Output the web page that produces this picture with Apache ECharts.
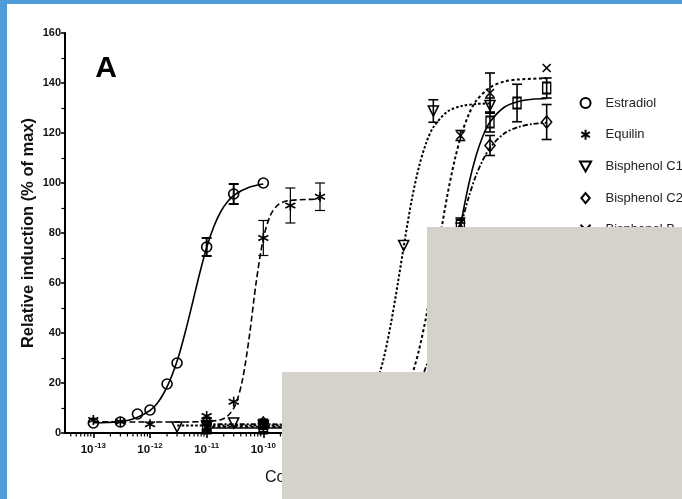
<!DOCTYPE html>
<html><head><meta charset="utf-8">
<script src="https://cdn.jsdelivr.net/npm/echarts@6/dist/echarts.min.js"></script>
<style>html,body{margin:0;padding:0;background:#fff}#c{width:682px;height:499px}</style>
</head><body><div id="c"></div><script>
// ---- measured points: concentration (M), response (% of max), error half-height ----
const estradiolConc = [1e-13, 3e-13, 6e-13, 1e-12, 2e-12, 3e-12, 1e-11, 3e-11, 1e-10];
const estradiolResp = [4, 4.4, 7.6, 9.2, 19.6, 28, 74.4, 95.6, 100];
const estradiolErr  = [0, 0, 0, 0, 0, 0, 3.6, 4, 0];

const equilinConc = [1e-13, 3e-13, 1e-12, 1e-11, 3e-11, 1e-10, 3e-10, 1e-9];
const equilinResp = [5.2, 4.5, 3.5, 6.8, 12.5, 78, 91, 94.5];
const equilinErr  = [0, 0, 0, 0, 0, 7, 7, 5.5];

const c1Conc = [3e-12, 1e-11, 3e-11, 1e-10, 3e-10, 1e-9, 3e-9, 1e-8, 3e-8, 1e-7, 1e-6];
const c1Resp = [2.4, 3, 4, 3, 3.5, 3, 4, 20, 75, 128.8, 131];
const c1Err  = [0, 1.5, 0, 1.5, 0, 1, 0, 2, 0, 4.5, 3];

const c2Conc = [1e-11, 1e-10, 1e-9, 1e-8, 1e-7, 3e-7, 1e-6, 1e-5];
const c2Resp = [4.5, 4, 3.5, 4.5, 36, 81, 115, 124.4];
const c2Err  = [1.5, 1.5, 1, 1, 3, 3, 4, 7];

const bConc = [1e-11, 1e-10, 1e-9, 1e-8, 1e-7, 3e-7, 1e-6, 1e-5];
const bResp = [2.5, 3, 2.5, 4.5, 62, 119, 136, 146];
const bErr  = [1.5, 1.5, 1, 1, 3, 2, 8, 0];

const sqConc = [1e-11, 1e-10, 1e-9, 1e-8, 1e-7, 3e-7, 1e-6, 3e-6, 1e-5];
const sqResp = [2, 2, 2, 2.6, 27, 83, 124.4, 132, 138];
const sqErr  = [1.5, 1.5, 1, 1, 3, 3, 4, 7.5, 4];

// ---- fitted curves: log10 concentration, response ----
const estradiolFitExp = [-13,-12.75,-12.5,-12.25,-12,-11.875,-11.75,-11.625,-11.5,-11.375,-11.25,-11.125,-11,-10.875,-10.75,-10.625,-10.5,-10.25,-10];
const estradiolFitVal = [4.1,4.2,4.6,6.0,9.0,11.8,16.2,22.3,30.3,40.6,52,63.7,74.2,82.5,88.6,92.7,95.4,98.3,99.6];

const equilinFitExp = [-13,-12,-11.5,-11,-10.75,-10.625,-10.5,-10.375,-10.25,-10.125,-10,-9.875,-9.75,-9.625,-9.5,-9.25,-9];
const equilinFitVal = [4.5,4.4,4.4,4.6,5.3,6.9,10.9,20.5,38.2,60.5,77.8,87.1,91.1,92.6,93.1,93.4,93.5];

const c1FitExp = [-11.52,-11,-10,-9,-8.75,-8.5,-8.25,-8.125,-8,-7.875,-7.75,-7.625,-7.5,-7.375,-7.25,-7.125,-7,-6.75,-6.5,-6.25,-6];
const c1FitVal = [3,3,3,3.2,3.7,5.2,9.3,13.5,20.2,30.0,43.6,60.1,77.7,94.0,106.8,116.1,122.3,128.6,130.8,131.6,131.8];

const c2FitExp = [-11,-10,-9,-8.5,-8,-7.75,-7.5,-7.25,-7.125,-7,-6.875,-6.75,-6.625,-6.5,-6.375,-6.25,-6.125,-6,-5.75,-5.5,-5.25,-5];
const c2FitVal = [3.5,3.5,3.4,3.3,4.6,6.6,10.9,19.8,26.8,35.9,46.9,59.3,71.9,83.9,94.4,102.8,109.2,114.1,119.8,122.4,123.6,124.1];

const bFitExp = [-11,-10,-9,-8.5,-8,-7.75,-7.5,-7.375,-7.25,-7.125,-7,-6.875,-6.75,-6.625,-6.5,-6.375,-6.25,-6,-5.75,-5.5,-5];
const bFitVal = [2.5,2.5,2.5,2.8,4.6,8.0,16.2,23.3,33.5,46.7,62.5,79.2,95.4,109.0,119.7,127.4,132.7,138.2,140.6,141.4,141.9];

const sqFitExp = [-11,-10,-9,-8.5,-8,-7.75,-7.5,-7.25,-7.125,-7,-6.875,-6.75,-6.625,-6.5,-6.375,-6.25,-6.125,-6,-5.75,-5.5,-5.25,-5];
const sqFitVal = [2,2,2,2.1,2.6,3.5,6.0,12.4,18.2,26.8,38.6,53.1,69.3,85.4,99.5,110.6,118.8,124.4,130.3,132.6,133.5,133.8];

// ---- axis ticks ----
const yTicks = [0, 20, 40, 60, 80, 100, 120, 140, 160];
const xTickExponents = [-13, -12, -11, -10, -9, -8, -7, -6, -5];
const minorTickConc = [];
for (let n = -14; n <= -5; n++) for (let k = 2; k <= 9; k++) {
  const v = k * Math.pow(10, n);
  if (v > Math.pow(10, -13.5) && v < Math.pow(10, -4.5)) minorTickConc.push(v);
}

const SANS = "'Liberation Sans', Arial, sans-serif";

const SYM = {
  circle: 'circle',
  star: 'path://M5,0V10M0.7,2.5L9.3,7.5M0.7,7.5L9.3,2.5',
  tri: 'path://M0,0L10,0L5,9Z',
  diamond: 'path://M5,0L10,6L5,12L0,6Z',
  cross: 'path://M0,0L10,10M0,10L10,0',
  square: 'rect'
};

function pts(c, r, e) { return c.map((x, i) => [x, r[i], e[i]]); }
function fit(ex, v) { return ex.map((x, i) => [Math.pow(10, x), v[i]]); }

function errRender(w) {
  return function (params, api) {
    const x = api.value(0), y = api.value(1), e = api.value(2);
    if (!(e > 0)) return null;
    const t = api.coord([x, y + e]), b = api.coord([x, y - e]);
    const st = { stroke: '#000', lineWidth: w };
    return { type: 'group', children: [
      { type: 'line', shape: { x1: t[0], y1: t[1], x2: b[0], y2: b[1] }, style: st },
      { type: 'line', shape: { x1: t[0] - 5, y1: t[1], x2: t[0] + 5, y2: t[1] }, style: st },
      { type: 'line', shape: { x1: b[0] - 5, y1: b[1], x2: b[0] + 5, y2: b[1] }, style: st }
    ]};
  };
}

const groups = [
  { name: 'Estradiol', data: pts(estradiolConc, estradiolResp, estradiolErr), fit: fit(estradiolFitExp, estradiolFitVal), sym: SYM.circle, size: 10, line: 'solid', lw: 1.6, ew: 2 },
  { name: 'Equilin', data: pts(equilinConc, equilinResp, equilinErr), fit: fit(equilinFitExp, equilinFitVal), sym: SYM.star, size: 10, line: [6, 3], lw: 1.6, ew: 1.2 },
  { name: 'Bisphenol C1', data: pts(c1Conc, c1Resp, c1Err), fit: fit(c1FitExp, c1FitVal), sym: SYM.tri, size: [10, 10], line: [2.5, 2], lw: 2, ew: 1.6 },
  { name: 'Bisphenol C2', data: pts(c2Conc, c2Resp, c2Err), fit: fit(c2FitExp, c2FitVal), sym: SYM.diamond, size: [10, 12], line: [5, 2, 2, 2], lw: 1.8, ew: 1.6 },
  { name: 'Bisphenol B', data: pts(bConc, bResp, bErr), fit: fit(bFitExp, bFitVal), sym: SYM.cross, size: 8, line: [3, 2.5], lw: 2, ew: 1.6 },
  { name: 'sq', data: pts(sqConc, sqResp, sqErr), fit: fit(sqFitExp, sqFitVal), sym: SYM.square, size: [8, 11], line: 'solid', lw: 1.6, ew: 1.6 }
];

const series = [];
groups.forEach(g => {
  series.push({ type: 'line', name: g.name + ' fit', xAxisIndex: 0, yAxisIndex: 0, data: g.fit,
    symbol: 'none', smooth: 0.3, z: 2,
    lineStyle: { color: '#000', width: g.lw, type: g.line }, silent: true });
  series.push({ type: 'custom', name: g.name + ' err', xAxisIndex: 0, yAxisIndex: 0, data: g.data,
    encode: { x: 0, y: 1 }, renderItem: errRender(g.ew), clip: false, z: 3, silent: true });
  series.push({ type: 'scatter', name: g.name, xAxisIndex: 0, yAxisIndex: 0, data: g.data.map(d => [d[0], d[1]]),
    symbol: g.sym, symbolSize: g.size, z: 4, silent: true,
    itemStyle: { color: 'rgba(255,255,255,0)', borderColor: '#000', borderWidth: 1.6, opacity: 1 } });
});
series.push({ type: 'custom', name: 'minor ticks', xAxisIndex: 0, yAxisIndex: 0, data: minorTickConc.map(v => [v, 0]),
  encode: { x: 0, y: 1 }, clip: false, silent: true, z: 5,
  renderItem: function (params, api) {
    const p = api.coord([api.value(0), 0]);
    return { type: 'line', shape: { x1: p[0], y1: p[1], x2: p[0], y2: p[1] + 3.5 }, style: { stroke: '#000', lineWidth: 1.2 } };
  } });

const chart = echarts.init(document.getElementById('c'), null, { renderer: 'canvas' });
chart.setOption({
  animation: false,
  backgroundColor: '#fff',
  textStyle: { fontFamily: SANS },
  grid: [
    { left: 65, top: 33, width: 510, height: 400, containLabel: false, outerBoundsMode: 'none' },
    { left: 65 + 0.5 * 510 / 9, top: 33, width: 8 * 510 / 9, height: 400, containLabel: false, outerBoundsMode: 'none' }
  ],
  xAxis: [
    { type: 'log', gridIndex: 0, min: Math.pow(10, -13.5), max: Math.pow(10, -4.5),
      axisLine: { show: true, onZero: false, lineStyle: { color: '#000', width: 2 } },
      axisTick: { show: false }, axisLabel: { show: false }, splitLine: { show: false }, minorTick: { show: false } },
    { type: 'value', gridIndex: 1, min: xTickExponents[0], max: xTickExponents[xTickExponents.length - 1], interval: 1,
      axisLine: { show: false, onZero: false },
      axisTick: { show: true, length: 5, lineStyle: { color: '#000', width: 1.6 } },
      splitLine: { show: false },
      axisLabel: { show: true, margin: 9, formatter: v => '{b|10}{s|' + v + '}',
        rich: {
          b: { fontFamily: SANS, fontSize: 11.5, fontWeight: 'bold', color: '#111', lineHeight: 14, verticalAlign: 'bottom' },
          s: { fontFamily: SANS, fontSize: 8, fontWeight: 'bold', color: '#111', lineHeight: 8, verticalAlign: 'top', padding: [0, 0, 0, 1] }
        } } }
  ],
  yAxis: [
    { type: 'value', gridIndex: 0, min: yTicks[0], max: yTicks[yTicks.length - 1], interval: 20,
      axisLine: { show: true, onZero: false, lineStyle: { color: '#000', width: 2 } },
      axisTick: { show: true, length: 4, lineStyle: { color: '#000', width: 1.6 } },
      minorTick: { show: true, splitNumber: 2, length: 3.5, lineStyle: { color: '#000', width: 1.2 } },
      splitLine: { show: false },
      axisLabel: { margin: 4, fontFamily: SANS, fontSize: 11, fontWeight: 'bold', color: '#111' } },
    { type: 'value', gridIndex: 1, min: 0, max: 160, show: false }
  ],
  legend: {
    orient: 'vertical', left: 579, top: 95, padding: 0, itemWidth: 30, itemHeight: 10, itemGap: 15.7,
    selectedMode: false,
    itemStyle: { color: 'rgba(255,255,255,0)', borderColor: '#000', borderWidth: 2 },
    textStyle: { fontFamily: SANS, fontSize: 13, lineHeight: 16, color: '#222', padding: [0, 0, 0, 0], width: 60, overflow: 'none' },
    data: [
      { name: 'Estradiol', icon: SYM.circle },
      { name: 'Equilin', icon: SYM.star },
      { name: 'Bisphenol C1', icon: SYM.tri },
      { name: 'Bisphenol C2', icon: SYM.diamond },
      { name: 'Bisphenol B', icon: SYM.cross }
    ]
  },
  graphic: [
    { type: 'text', z: 50, style: { text: 'A', x: 106, y: 69, font: 'bold 30px ' + SANS, fill: '#000', align: 'center', verticalAlign: 'middle', textAlign: 'center', textVerticalAlign: 'middle' } },
    { type: 'text', z: 50, x: 28, y: 233, rotation: Math.PI / 2,
      style: { text: 'Relative induction (% of max)', x: 0, y: 0, font: 'bold 16.5px ' + SANS, fill: '#111', align: 'center', verticalAlign: 'middle', textAlign: 'center', textVerticalAlign: 'middle' } },
    { type: 'text', z: 50, style: { text: 'Concentration (M)', x: 265, y: 478, font: '16px ' + SANS, fill: '#111', align: 'left', verticalAlign: 'middle', textAlign: 'left', textVerticalAlign: 'middle' } },
    { type: 'rect', z: 100, shape: { x: 282, y: 372, width: 400, height: 127 }, style: { fill: '#d5d2cc' } },
    { type: 'rect', z: 100, shape: { x: 427, y: 227, width: 255, height: 272 }, style: { fill: '#d5d2cc' } },
    { type: 'rect', z: 110, shape: { x: 0, y: 0, width: 682, height: 4 }, style: { fill: '#509cd8' } },
    { type: 'rect', z: 110, shape: { x: 0, y: 0, width: 7, height: 499 }, style: { fill: '#509cd8' } }
  ],
  series: series
});
</script></body></html>
